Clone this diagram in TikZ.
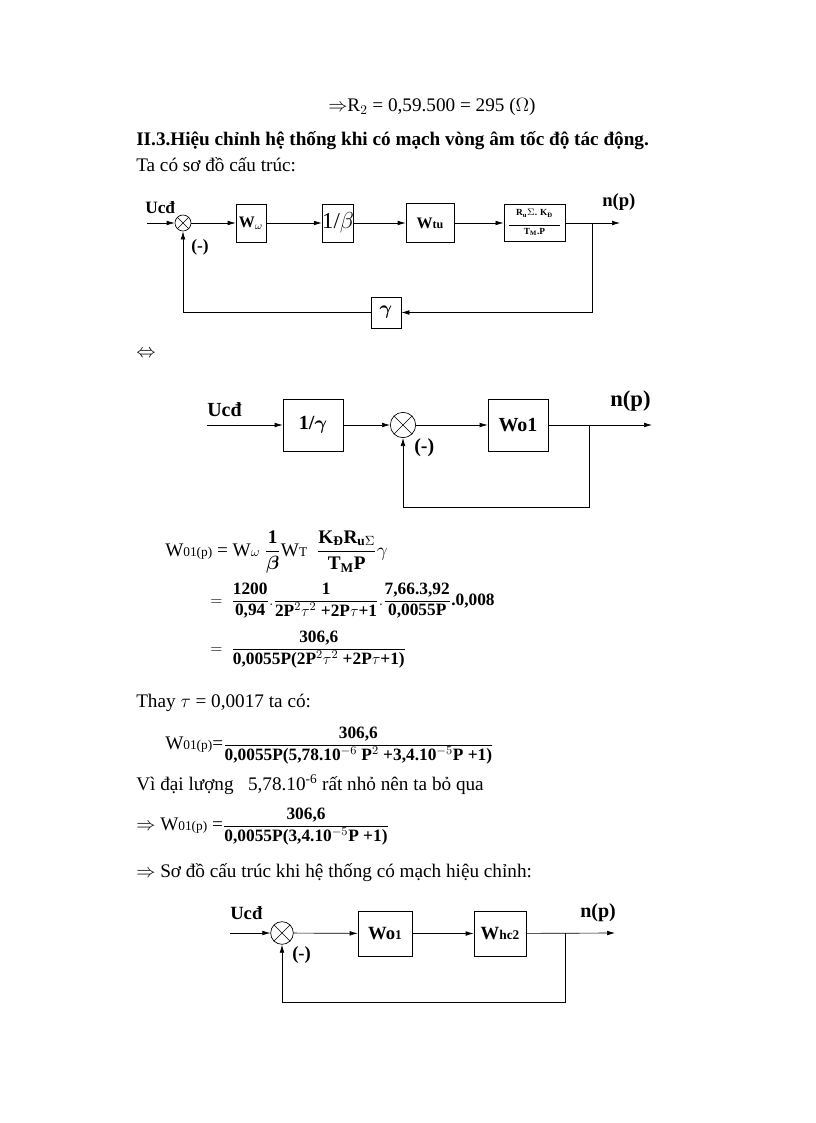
\documentclass[tikz,border=0pt]{standalone}
\usepackage{fontspec}
\usepackage{amsmath}
\setmainfont{Liberation Serif}
\usetikzlibrary{arrows.meta}
\newcommand{\bt}[1]{\text{\textbf{#1}}}
\newcommand{\sm}{\fontsize{10}{11}\selectfont}
\newcommand{\nm}{\fontsize{14.4}{16}\selectfont}
\begin{document}
\begin{tikzpicture}[x=0.75pt,y=-0.75pt,
  box/.style={draw,inner sep=0pt,font=\bfseries\fontsize{12}{14}\selectfont},
  sum/.style={draw,circle,inner sep=0pt},
  arr/.style={-{Latex[length=6pt,width=3.5pt]}},
  ln/.style={line width=0.5pt},
  txt/.style={anchor=base west,inner sep=0pt,font=\nm},
  ftx/.style={anchor=base west,inner sep=0pt,font=\fontsize{13}{15}\selectfont},
  lab/.style={anchor=base west,inner sep=0pt,font=\bfseries\fontsize{13}{14}\selectfont}]
\useasboundingbox (0,0) rectangle (816,1123);
% header text
\node[txt] (t1) at (328,112) {$\Rightarrow$R$_2$ = 0,59.500 = 295 ($\Omega$)};
\node[txt,font=\nm\bfseries] (t2) at (136,146) {II.3.Hiệu chỉnh hệ thống khi có mạch vòng âm tốc độ tác động.};
\node[txt] (t3) at (136,172) {Ta có sơ đồ cấu trúc:};
% ---------- diagram 1
\begin{scope}[ln]
\coordinate (i1) at (147,223);
\node[sum,minimum size=12pt] (s1) at (183,223) {};
\draw (s1.45)--(s1.225) (s1.135)--(s1.315);
\node[box,minimum width=22.5pt,minimum height=28.5pt] (b1) at (251,223) {W$_\omega$};
\node[box,minimum width=22.5pt,minimum height=28.5pt,font=\fontsize{17}{18}\selectfont] (b2) at (338,223) {1/$\beta$};
\node[box,minimum width=36pt,minimum height=29pt] (b3) at (430,223) {W\fontsize{9}{10}\selectfont tu};
\node[box,minimum width=46pt,minimum height=28pt,font=\bfseries\fontsize{7}{8}\selectfont] (b4) at (534.5,223) {\begin{tabular}{@{}c@{}}R$_\text{u}$$\Sigma$. K$_\text{Đ}$\\[-1pt]\rule{38pt}{0.4pt}\\[-1pt]T$_\text{M}$.P\end{tabular}};
\node[box,minimum width=22.5pt,minimum height=23pt,font=\bfseries\fontsize{14}{15}\selectfont] (g1) at (386,312.5) {$\boldsymbol\gamma$};
\coordinate (o1) at (620,223);
\coordinate (br1) at (592,223);
\draw[arr] (i1)--(s1);
\draw[arr] (s1)--(b1);
\draw[arr] (b1)--(b2);
\draw[arr] (b2)--(b3);
\draw[arr] (b3)--(b4);
\draw[arr] (b4)--(o1);
\draw[arr] (br1)|-(g1);
\draw[arr] (g1)-|(s1);
\end{scope}
\node[lab] (u1) at (145,214) {Ucđ};
\node[lab,font=\bfseries\fontsize{14}{15}\selectfont] (n1) at (602,207) {n(p)};
\node[lab] (m1) at (191,251) {(-)};
% equivalence
\node[txt] (eq) at (136,357) {$\Leftrightarrow$};
% ---------- diagram 2
\begin{scope}[ln]
\coordinate (i2) at (207,425);
\node[box,minimum width=45pt,minimum height=39pt,font=\bfseries\fontsize{15}{16}\selectfont] (c1) at (313,425) {1/$\boldsymbol\gamma$};
\node[sum,minimum size=19pt] (s2) at (403,425) {};
\draw (s2.45)--(s2.225) (s2.135)--(s2.315);
\node[box,minimum width=45pt,minimum height=39pt,font=\bfseries\fontsize{15}{16}\selectfont] (c2) at (518,425) {Wo1};
\coordinate (o2) at (652,425);
\coordinate (br2) at (589,425);
\coordinate (f2) at (589,507);
\draw[arr] (i2)--(c1);
\draw[arr] (c1)--(s2);
\draw[arr] (s2)--(c2);
\draw[arr] (c2)--(o2);
\draw[arr] (br2)--(f2)-|(s2);
\end{scope}
\node[lab,font=\bfseries\fontsize{15}{16}\selectfont] (u2) at (207,416) {Ucđ};
\node[lab,font=\bfseries\fontsize{17}{18}\selectfont] (n2) at (610,406) {n(p)};
\node[lab,font=\bfseries\fontsize{15}{16}\selectfont] (m2) at (414,452) {(-)};
% ---------- formulas
\node[ftx] (f1) at (165,556) {\nm W\sm 01(p)\nm{} = W\sm$\omega$\nm{} $\dfrac{\bt{1}}{\boldsymbol\beta}$W\sm T\nm{}\ \ $\dfrac{\bt{K$_\text{Đ}$R$_\text{u$\Sigma$}$}}{\bt{T$_\text{M}$P}}\gamma$};
\node[ftx] (f2t) at (210,605) {$=\ \dfrac{\bt{1200}}{\bt{0,94}}.\dfrac{\bt{1}}{\bt{2P$^2$$\tau^2$ +2P$\tau$+1}}.\dfrac{\bt{7,66.3,92}}{\bt{0,0055P}}\bt{.0,008}$};
\node[ftx] (f3) at (210,653) {$=\ \dfrac{\bt{306,6}}{\bt{0,0055P(2P$^2$$\tau^2$ +2P$\tau$+1)}}$};
\node[txt] (t4) at (136,707) {Thay $\tau$ = 0,0017 ta có:};
\node[ftx] (f4) at (165,749) {\nm W\sm 01(p)\nm=\fontsize{13}{15}\selectfont$\dfrac{\bt{306,6}}{\bt{0,0055P(5,78.10$^{-6}$ P$^2$ +3,4.10$^{-5}$P +1)}}$};
\node[txt] (t5) at (136,790) {Vì đại lượng\ \ \ 5,78.10$^{\text{-6}}$ rất nhỏ nên ta bỏ qua};
\node[ftx] (f5) at (136,830) {\nm$\Rightarrow$ W\sm 01(p)\nm{} =\fontsize{13}{15}\selectfont$\dfrac{\bt{306,6}}{\bt{0,0055P(3,4.10$^{-5}$P +1)}}$};
\node[txt] (t6) at (136,877) {$\Rightarrow$ Sơ đồ cấu trúc khi hệ thống có mạch hiệu chỉnh:};
% ---------- diagram 3
\begin{scope}[ln]
\coordinate (i3) at (230,933);
\node[sum,minimum size=17pt] (s3) at (282,933) {};
\draw (s3.45)--(s3.225) (s3.135)--(s3.315);
\node[box,minimum width=40.5pt,minimum height=34pt,font=\bfseries\fontsize{14}{15}\selectfont] (d1) at (385,933.5) {Wo\fontsize{10}{11}\selectfont 1};
\node[box,minimum width=39pt,minimum height=34pt,font=\bfseries\fontsize{14}{15}\selectfont] (d2) at (500,933.5) {W\fontsize{10}{11}\selectfont hc2};
\coordinate (o3) at (615,933);
\coordinate (br3) at (565,933);
\coordinate (f3c) at (565,1002);
\draw[arr] (i3)--(s3);
\draw[arr] (s3)--(d1);
\draw[arr] (d1)--(d2);
\draw[arr] (d2)--(o3);
\draw[arr] (br3)--(f3c)-|(s3);
\end{scope}
\node[lab,font=\bfseries\fontsize{14}{15}\selectfont] (u3) at (230,919) {Ucđ};
\node[lab,font=\bfseries\fontsize{15}{16}\selectfont] (n3) at (580,917) {n(p)};
\node[lab,font=\bfseries\fontsize{14}{15}\selectfont] (m3) at (292,959) {(-)};
\end{tikzpicture}
\end{document}
